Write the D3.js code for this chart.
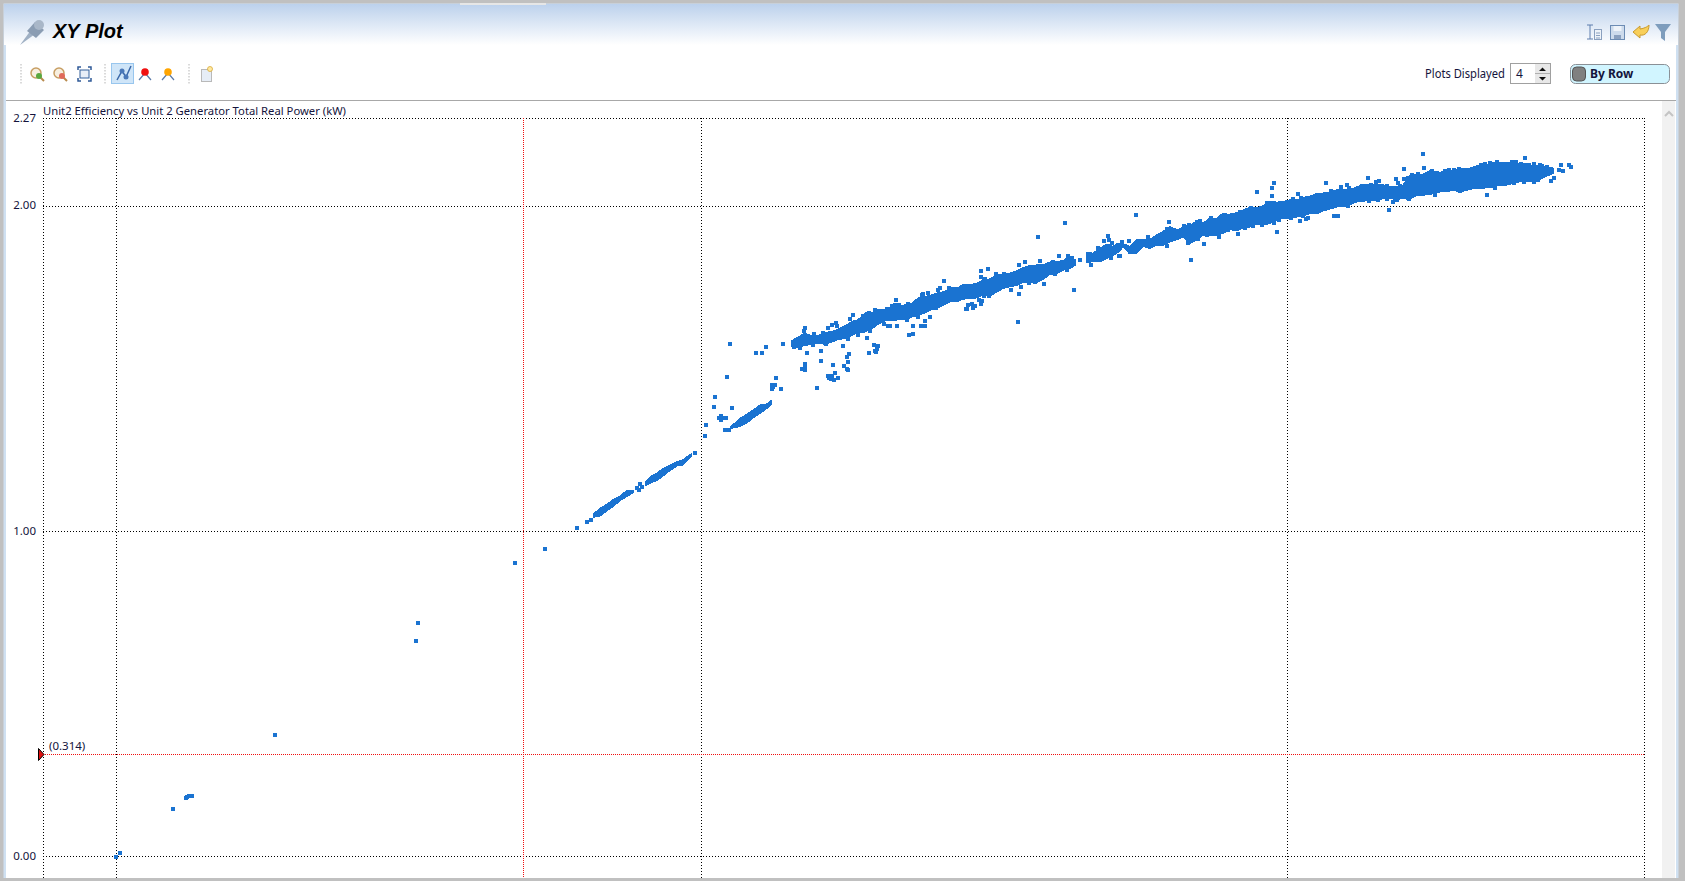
<!DOCTYPE html>
<html><head><meta charset="utf-8">
<script src="https://cdn.jsdelivr.net/npm/d3@7"></script>
<style>html,body{margin:0;padding:0;background:#fff;overflow:hidden}svg{display:block}text{font-family:"Noto Sans",sans-serif}</style>
</head><body><svg id="c" width="1685" height="881"></svg>
<script>
// Chart text
const chartTitle = "Unit2 Efficiency vs Unit 2 Generator Total Real Power (kW)";
const yTicks = [0, 1, 2, 2.27];
const xGridValues = [0, 585, 1171];      // no x labels are visible in the picture: relative power units
const cursorX = 407;
const cursorY = 0.314;
const colour = "#1a73d1";

// Dense parts of the cloud
const segAX  = [477,484,491,497,504,511,517];
const segAHi = [1.053,1.071,1.084,1.098,1.109,1.127,1.127];
const segALo = [1.043,1.047,1.063,1.076,1.094,1.107,1.119];

const segBX  = [529,534,541,547,554,561,567,572,575];
const segBHi = [1.152,1.168,1.180,1.194,1.204,1.214,1.221,1.232,1.238];
const segBLo = [1.140,1.148,1.156,1.170,1.187,1.201,1.204,1.219,1.230];

const segCX  = [614,619,624,631,637,644,651,655];
const segCHi = [1.320,1.334,1.348,1.361,1.373,1.389,1.392,1.402];
const segCLo = [1.314,1.320,1.322,1.334,1.348,1.363,1.378,1.389];

const segDX  = [676,682,689,696,702,709,716,722,729,736,742,749,756,762,769,776,782,789,796,802,809,816,822,829,
                834,841,847,854,861,867,874,881,887,894,901,907,914,921,927,934,941,947,954,959];
const segDHi = [1.586,1.597,1.609,1.601,1.601,1.611,1.614,1.621,1.632,1.645,1.650,1.671,1.671,1.683,1.681,1.691,1.689,1.696,1.701,1.717,1.722,1.727,1.734,1.737,
                1.748,1.748,1.758,1.758,1.763,1.773,1.776,1.789,1.789,1.794,1.801,1.811,1.817,1.819,1.819,1.828,1.830,1.832,1.845,1.835];
const segDLo = [1.568,1.566,1.573,1.576,1.580,1.576,1.583,1.591,1.594,1.604,1.611,1.614,1.624,1.638,1.648,1.648,1.652,1.652,1.660,1.665,1.673,1.683,1.689,1.698,
                1.707,1.707,1.715,1.717,1.719,1.729,1.725,1.737,1.748,1.753,1.758,1.766,1.766,1.766,1.776,1.791,1.794,1.804,1.809,1.819];

const segEX  = [971,977,984,991,997,1003,1007,1014,1021,1027,1034,1041,1047,1054,1061,1067,1074,1081,1087,1094,1101,1107,1114,1121,1127,1134,1141,1147,1154,
                1161,1167,1174,1181,1187,1194,1201,1207,1214,1221,1227,1234,1241,1247,1254,1261,1267,1274,1281,1287,1294,1301,1307,1314,
                1324,1331,1337,1344,1351,1357,1364,1371,1377,1384,1391,1397,1404,1411,1417,1424,1429,1437];
const segEHi = [1.858,1.855,1.871,1.883,1.876,1.886,1.884,1.876,1.898,1.898,1.898,1.912,1.922,1.937,1.927,1.935,1.942,1.953,1.948,1.963,1.963,1.978,1.973,1.980,1.987,1.997,1.994,2.001,2.014,
                2.012,2.014,2.019,2.019,2.027,2.030,2.040,2.040,2.043,2.050,2.050,2.050,2.060,2.065,2.065,2.065,2.065,2.060,2.060,2.065,2.094,2.098,2.098,2.109,
                2.104,2.110,2.110,2.114,2.114,2.120,2.127,2.127,2.134,2.134,2.134,2.130,2.130,2.130,2.124,2.124,2.122,2.117];
const segELo = [1.828,1.830,1.830,1.840,1.850,1.860,1.876,1.857,1.857,1.878,1.871,1.881,1.881,1.891,1.898,1.907,1.886,1.898,1.912,1.912,1.912,1.917,1.929,1.925,1.935,1.937,1.946,1.942,1.948,
                1.958,1.963,1.965,1.968,1.971,1.978,1.978,1.986,1.992,1.999,1.999,2.006,2.014,2.016,2.019,2.019,2.024,2.024,2.022,2.024,2.022,2.035,2.035,2.037,
                2.045,2.045,2.050,2.045,2.050,2.055,2.055,2.058,2.060,2.066,2.066,2.071,2.076,2.076,2.076,2.083,2.091,2.101];

// Separate points
const looseX = [0,4,57,70,71,73,75,76,159,300,302,399,429,461,471,475,521,524,526,523,579,
  589,590,598,599,611,616,609,613,614,640,646,650,667,660,665,656,656,659,657,605,603,606,608,610,605,
  691,705,705,689,689,686,689,701,717,728,731,732,732,731,733,719,712,716,713,715,718,722,727,751,753,758,762,761,759,760,781,772,774,793,797,797,805,809,809,814,
  851,852,856,857,859,865,866,902,903,689,688,698,712,716,720,721,737,734,759,771,780,779,783,807,812,
  949,922,943,952,964,958,975,909,903,865,872,865,869,903,895,856,859,857,850,865,863,988,992,993,996,995,1003,928,
  1141,1158,1156,1156,1151,1020,1053,1075,1088,1122,1161,1095,1068,1004,1006,1013,1002,1009,1014,1051,1082,
  1307,1308,1288,1252,1210,1231,1225,1233,1263,1260,1280,1288,1282,1182,1215,1184,1190,1192,1218,1222,1273,1277,1281,1319,
  1409,1400,1371,1453,1455,1447,1445,1443,1438,1435,1424,1431,1369,828,824,833];
const looseY = [0,0.012,0.148,0.182,0.184,0.186,0.187,0.186,0.375,0.665,0.718,0.904,0.947,1.012,1.031,1.037,1.135,1.145,1.138,1.129,1.243,
  1.295,1.329,1.384,1.415,1.477,1.381,1.314,1.314,1.578,1.551,1.548,1.569,1.578,1.474,1.440,1.440,1.450,1.452,1.445,1.357,1.349,1.349,1.350,1.351,1.344,
  1.551,1.557,1.526,1.517,1.511,1.501,1.498,1.443,1.514,1.511,1.501,1.498,1.523,1.538,1.545,1.489,1.480,1.480,1.474,1.469,1.465,1.474,1.572,1.597,1.548,1.575,1.572,1.563,1.557,1.554,1.634,1.631,1.631,1.606,1.609,1.634,1.631,1.631,1.649,1.661,
  1.686,1.697,1.700,1.689,1.695,1.708,1.708,1.646,1.732,1.627,1.616,1.609,1.627,1.637,1.643,1.634,1.665,1.655,1.683,1.686,1.711,1.698,1.698,1.732,1.735,
  1.948,1.905,1.849,1.849,1.834,1.744,1.821,1.828,1.821,1.803,1.809,1.784,1.778,1.732,1.744,1.701,1.695,1.689,1.686,1.701,1.714,1.895,1.908,1.898,1.889,1.843,1.849,1.763,
  2.046,2.071,2.058,2.031,2.012,1.975,1.951,1.834,1.886,1.917,1.923,1.966,1.941,1.849,1.892,1.895,1.882,1.880,1.861,1.880,1.901,
  2.163,2.120,2.114,2.089,2.071,2.067,2.061,2.058,2.080,2.074,2.086,2.086,2.071,2.040,2.049,1.954,1.963,1.966,1.972,1.972,1.988,2.015,2.021,2.034,
  2.148,2.138,2.034,2.129,2.123,2.108,2.129,2.112,2.089,2.080,2.129,2.122,2.132,1.772,1.748,1.748];

// Points picked from the rough edge of the dense band
const edgeX = [1316,1329,1333,1338,1343,1365,1374,1381,1396,1405,1413,1418,1426,1344,1379,1398,1408,1418,1422,
  1177,1185,1236,1246,1255,1266,1271,1284,1292,1296,1302,1253,1262,1271,1293,1232,1203,1187,1175,1163,1158,
  1032,1028,1022,1051,1073,1081,1084,1108,1116,1124,1135,1072,1076,1091,1103,1112,1129,1137,1146,
  880,888,916,924,937,956,868,873,905,913,919,939,951,982,
  707,728,747,753,776,792,806,822,684,697,678,710,732,742,754,768,791,802,820];
const edgeY = [2.109,2.109,2.112,2.112,2.115,2.129,2.135,2.136,2.136,2.132,2.127,2.132,2.124,2.048,2.058,2.071,2.076,2.076,2.083,
  2.022,2.027,2.050,2.063,2.065,2.063,2.063,2.063,2.089,2.096,2.099,2.017,2.021,2.023,2.022,2.001,1.989,1.970,1.965,1.959,1.950,
  1.906,1.894,1.894,1.932,1.942,1.951,1.954,1.975,1.975,1.984,1.997,1.888,1.898,1.911,1.907,1.927,1.934,1.940,1.944,
  1.794,1.791,1.815,1.831,1.828,1.843,1.726,1.726,1.754,1.766,1.769,1.794,1.806,1.871,
  1.612,1.627,1.664,1.674,1.695,1.701,1.729,1.744,1.566,1.575,1.568,1.576,1.594,1.606,1.616,1.639,1.652,1.661,1.689];

const svg = d3.select("#c");

// window chrome
const defs = svg.append("defs");
const grad = defs.append("linearGradient").attr("id","hdr").attr("x1",0).attr("y1",0).attr("x2",0).attr("y2",1);
grad.append("stop").attr("offset",0).attr("stop-color","#bcd1ec");
grad.append("stop").attr("offset",1).attr("stop-color","#ffffff");
svg.append("rect").attr("width",1685).attr("height",881).attr("fill","#c0c0c0");
svg.append("rect").attr("x",3.5).attr("y",3.5).attr("width",1675).attr("height",874.5).attr("fill","#cfe0f1");
svg.append("rect").attr("x",6).attr("y",4).attr("width",1670).attr("height",874).attr("fill","#fff");
svg.append("rect").attr("x",4).attr("y",4).attr("width",1674).attr("height",41).attr("fill","url(#hdr)");
svg.append("rect").attr("x",460).attr("y",3).attr("width",86).attr("height",2).attr("fill","#e6e6e6");
svg.append("line").attr("x1",6).attr("x2",1676).attr("y1",100.5).attr("y2",100.5).attr("stroke","#a8a8a8");
svg.append("rect").attr("x",1662).attr("y",101).attr("width",13).attr("height",777).attr("fill","#f1f1f1");
svg.append("path").attr("d","M1665 116l4-4 4 4").attr("fill","none").attr("stroke","#c4c4c4").attr("stroke-width",2);

// header: pin + title
const pin = svg.append("g").attr("fill","#8b9db3");
pin.append("path").attr("d","M20 45L31 30L35 34Z").attr("fill","#9fb0c4");
pin.append("path").attr("d","M27 31L35 22L44 30L36 38Z").attr("fill","#8b9db3");
pin.append("circle").attr("cx",39).attr("cy",25).attr("r",5).attr("fill","#a9b7c8");
svg.append("text").attr("x",53).attr("y",38).text("XY Plot")
  .style("font-family","'Liberation Sans'").style("font-weight","bold").style("font-style","italic").style("font-size","20px").attr("fill","#000");

// toolbar
[21,105,189].forEach(x=>svg.append("line").attr("x1",x).attr("x2",x).attr("y1",64).attr("y2",85).attr("stroke","#b5b5b5").attr("stroke-dasharray","1.5 1.5"));
[[37,"#5aa83f"],[60,"#e06a5a"]].forEach(([x,c])=>{
  svg.append("circle").attr("cx",x-1).attr("cy",73).attr("r",5).attr("fill","#f7efe0").attr("stroke","#c79e62").attr("stroke-width",1.5);
  svg.append("line").attr("x1",x+3).attr("y1",77).attr("x2",x+7).attr("y2",81).attr("stroke","#b88a4c").attr("stroke-width",2);
  svg.append("circle").attr("cx",x+2).attr("cy",76).attr("r",3).attr("fill",c);
});
svg.append("rect").attr("x",80).attr("y",70).attr("width",9).attr("height",8).attr("fill","#e8eef7").attr("stroke","#35609c");
svg.append("path").attr("d","M78 70v-3h3M88 67h3v3M91 78v3h-3M81 81h-3v-3").attr("fill","none").attr("stroke","#2f5a98").attr("stroke-width",1.5);
svg.append("rect").attr("x",111.5).attr("y",63.5).attr("width",22).attr("height",20).attr("fill","#cfe5f8").attr("stroke","#98c6ee");
svg.append("path").attr("d","M117 80L122 71L126 77L131 66").attr("fill","none").attr("stroke","#3a67a8").attr("stroke-width",1.5);
svg.append("circle").attr("cx",122).attr("cy",71).attr("r",2.5).attr("fill","#4a78b8");
svg.append("circle").attr("cx",126).attr("cy",77).attr("r",2.5).attr("fill","#4a78b8");
[[145,"#f01010"],[168,"#ffa500"]].forEach(([x,c])=>{
  svg.append("path").attr("d",`M${x-6} 80L${x} 73L${x+6} 80`).attr("fill","none").attr("stroke","#5b7ba8").attr("stroke-width",1.2);
  svg.append("circle").attr("cx",x).attr("cy",72).attr("r",3.8).attr("fill",c);
});
svg.append("rect").attr("x",201.5).attr("y",69.5).attr("width",10).attr("height",12).attr("fill","#e6edf6").attr("stroke","#b9b9b9");
svg.append("circle").attr("cx",210).attr("cy",69).attr("r",2.5).attr("fill","#ffe9a0").attr("stroke","#d8a93a").attr("stroke-width",.8);

// right-hand icons
svg.append("path").attr("d","M1587 25h6M1590 25v14M1587 39h6").attr("stroke","#5f7fae").attr("fill","none");
svg.append("rect").attr("x",1594.5).attr("y",29.5).attr("width",7).attr("height",10).attr("fill","#eef3f9").attr("stroke","#8aa0bf");
svg.append("path").attr("d","M1596 33h4M1596 35.500h4M1596 38h4").attr("stroke","#8aa0bf");
svg.append("rect").attr("x",1610.5).attr("y",25.5).attr("width",14).attr("height",14).attr("fill","#cddbec").attr("stroke","#6c8cb4");
svg.append("rect").attr("x",1613.5).attr("y",26).attr("width",8).attr("height",5).attr("fill","#eef3f9");
svg.append("rect").attr("x",1614).attr("y",35).attr("width",7).attr("height",4).attr("fill","#8aa0bf");
svg.append("path").attr("d","M1633 32L1640 26V29C1646 28 1648 26 1649 25C1649 32 1645 36 1640 35V38Z").attr("fill","#f8cf5a").attr("stroke","#c99a2e");
svg.append("path").attr("d","M1655 24H1671L1665 32V41L1661 38V32Z").attr("fill","#7e9dbd");

svg.append("text").attr("x",1425).attr("y",78).text("Plots Displayed").style("font-size","12px").attr("fill","#14143c").attr("textLength",80).attr("lengthAdjust","spacingAndGlyphs");
svg.append("rect").attr("x",1510.5).attr("y",63.5).attr("width",40).attr("height",20).attr("fill","#fff").attr("stroke","#a0a0a0");
svg.append("text").attr("x",1516).attr("y",78).text("4").style("font-size","12px").attr("fill","#14143c");
svg.append("rect").attr("x",1535).attr("y",64).attr("width",15).attr("height",19).attr("fill","#e8e8e8");
svg.append("path").attr("d","M1539 71l3.500-3.500 3.500 3.500zM1539 77l3.500 3.500 3.500-3.500z").attr("fill","#111");
svg.append("line").attr("x1",1535).attr("x2",1550).attr("y1",73.500).attr("y2",73.500).attr("stroke","#b0b0b0");
svg.append("rect").attr("x",1570.5).attr("y",64.5).attr("width",99).attr("height",19).attr("rx",5).attr("fill","#d1f5ff").attr("stroke","#8a9096");
svg.append("rect").attr("x",1572.5).attr("y",67).attr("width",13).attr("height",14).attr("rx",4).attr("fill","#808080").attr("stroke","#555");
svg.append("text").attr("x",1590).attr("y",78).text("By Row").style("font-size","12px").style("font-weight","bold").attr("fill","#14143c");

// scales
const x = d3.scaleLinear().domain([-72.5, 1528]).range([43.5, 1644]);
const y = d3.scaleLinear().domain([0, 2.27]).range([856.5, 118.5]);
const plotBottom = 878;
const rowY = v => Math.floor(y(v)) + .5;
const colX = v => Math.floor(x(v)) + .5;

// plot frame
const fr = svg.append("g").attr("fill","none").attr("stroke","#000").attr("stroke-dasharray","1 2");
fr.append("line").attr("x1",43.5).attr("x2",43.5).attr("y1",118).attr("y2",plotBottom);
fr.append("line").attr("x1",1644.5).attr("x2",1644.5).attr("y1",118).attr("y2",plotBottom);

// y axis and horizontal grid
const yAxis = d3.axisLeft(y).tickValues(yTicks).tickFormat(d3.format(".2f")).tickSize(0).tickPadding(0);
const gy = svg.append("g").attr("transform","translate(36,-1)").call(yAxis);
gy.select(".domain").remove();
gy.selectAll("text").style("font-family","'Noto Sans'").style("font-size","11.5px").attr("fill","#14143c").attr("x",0);
svg.append("g").selectAll("line").data(yTicks).join("line")
  .attr("x1",43).attr("x2",1644).attr("y1",rowY).attr("y2",rowY)
  .attr("stroke","#000").attr("stroke-dasharray","1 2");

// x grid
const xAxis = d3.axisBottom(x).tickValues(xGridValues).tickFormat("").tickSize(plotBottom-118).offset(0);
const gx = svg.append("g").attr("transform","translate(0,118)").call(xAxis);
gx.select(".domain").remove();
gx.selectAll("g.tick").attr("transform",d=>`translate(${colX(d)},0)`);
gx.selectAll("line").attr("stroke","#000").attr("stroke-dasharray","1 2");

// cursors
svg.append("line").attr("x1",colX(cursorX)).attr("x2",colX(cursorX)).attr("y1",118).attr("y2",plotBottom).attr("stroke","#f01010").attr("stroke-dasharray","1 1");
svg.append("line").attr("x1",43).attr("x2",1644).attr("y1",rowY(cursorY)).attr("y2",rowY(cursorY)).attr("stroke","#f01010").attr("stroke-dasharray","1 1");
const ty = rowY(cursorY);
svg.append("path").attr("d",`M38.500 ${ty-6}L44 ${ty}L38.500 ${ty+6}Z`).attr("fill","#e01010").attr("stroke","#000");
svg.append("text").attr("x",49).attr("y",750).text("("+cursorY+")").style("font-size","11.500px").attr("fill","#14143c");

// title
svg.append("text").attr("x",43).attr("y",115).text(chartTitle).style("font-size","11.500px").attr("fill","#14143c").attr("textLength",303).attr("lengthAdjust","spacingAndGlyphs");

// dense cloud
const area = d3.area().curve(d3.curveLinear).x(d=>x(d[0])).y0(d=>y(d[2])).y1(d=>y(d[1]));
[[segAX,segAHi,segALo,1],[segBX,segBHi,segBLo,1],[segCX,segCHi,segCLo,1],[segDX,segDHi,segDLo,1.5],[segEX,segEHi,segELo,1.5]].forEach(([X,H,L,w])=>{
  svg.append("path").datum(X.map((v,i)=>[v,H[i],L[i]])).attr("d",area).attr("fill",colour).attr("stroke",colour).attr("stroke-width",w).attr("shape-rendering","crispEdges");
});

// separate points and rough band edge
const size = 3.5;
svg.append("g").selectAll("rect").data(looseX.map((v,i)=>[v,looseY[i]]).concat(edgeX.map((v,i)=>[v,edgeY[i]]))).join("rect")
  .attr("x",d=>Math.round(x(d[0])-size/2)).attr("y",d=>Math.round(y(d[1])-size/2)).attr("width",size).attr("height",size)
  .attr("fill",colour).attr("shape-rendering","crispEdges");
</script></body></html>
